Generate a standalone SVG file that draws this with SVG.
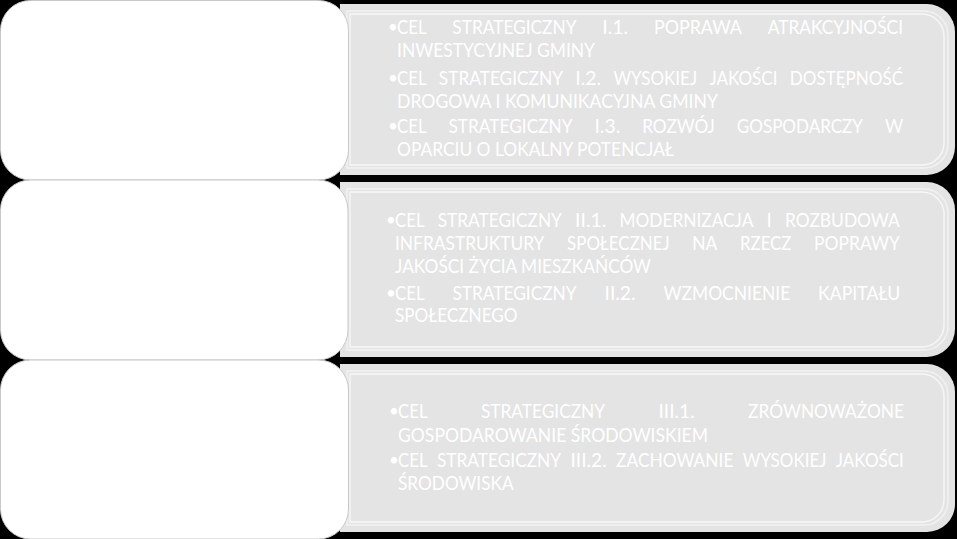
<svg xmlns="http://www.w3.org/2000/svg" width="957" height="539" viewBox="0 0 957 539">
<style>
.bg{fill:#000}
.lbox{fill:#ffffff;stroke:#c8c8c8;stroke-width:1}
.gbox{fill:#e4e4e4}
.f1{fill:none;stroke:#f2f2f2;stroke-width:1.4}
.f2{fill:none;stroke:#f7f7f7;stroke-width:1.4}
text{font-family:Lato,"Liberation Sans",Arial,sans-serif;font-size:18.5px;fill:#ffffff}
.b{font-size:17px}
</style>
<rect class="bg" x="0" y="0" width="957" height="539"/>
<g id="connectors"></g>
<g id="goal-box-1">
<path class="gbox" d="M340,4 H927 A28,28 0 0 1 955,32 V147 A28,28 0 0 1 927,175 H340 Z"/>
<path class="f1" d="M347,11 H924 A24,24 0 0 1 948,35 V144 A24,24 0 0 1 924,168 H347 Z"/>
<path class="f2" d="M350,14 H922 A22,22 0 0 1 944,36 V143 A22,22 0 0 1 922,165 H350 Z"/>
<text class="b" x="388" y="33">•</text>
<text x="397" y="34" textLength="29.5" lengthAdjust="spacingAndGlyphs">CEL</text>
<text x="452.3" y="34" textLength="124.2" lengthAdjust="spacingAndGlyphs">STRATEGICZNY</text>
<text x="602.3" y="34" textLength="25.9" lengthAdjust="spacingAndGlyphs">I.1.</text>
<text x="654" y="34" textLength="87.9" lengthAdjust="spacingAndGlyphs">POPRAWA</text>
<text x="767.7" y="34" textLength="135.3" lengthAdjust="spacingAndGlyphs">ATRAKCYJNOŚCI</text>
<text x="397" y="57" textLength="198" lengthAdjust="spacingAndGlyphs">INWESTYCYJNEJ GMINY</text>
<text class="b" x="388" y="84">•</text>
<text x="397" y="85" textLength="29.5" lengthAdjust="spacingAndGlyphs">CEL</text>
<text x="438.8" y="85" textLength="124.2" lengthAdjust="spacingAndGlyphs">STRATEGICZNY</text>
<text x="575.3" y="85" textLength="25.9" lengthAdjust="spacingAndGlyphs">I.2.</text>
<text x="613.5" y="85" textLength="83.6" lengthAdjust="spacingAndGlyphs">WYSOKIEJ</text>
<text x="709.4" y="85" textLength="68.1" lengthAdjust="spacingAndGlyphs">JAKOŚCI</text>
<text x="789.8" y="85" textLength="113.3" lengthAdjust="spacingAndGlyphs">DOSTĘPNOŚĆ</text>
<text x="397" y="107.5" textLength="321" lengthAdjust="spacingAndGlyphs">DROGOWA I KOMUNIKACYJNA GMINY</text>
<text class="b" x="388" y="132">•</text>
<text x="397" y="133" textLength="29.5" lengthAdjust="spacingAndGlyphs">CEL</text>
<text x="448.4" y="133" textLength="124.2" lengthAdjust="spacingAndGlyphs">STRATEGICZNY</text>
<text x="594.4" y="133" textLength="25.9" lengthAdjust="spacingAndGlyphs">I.3.</text>
<text x="642.2" y="133" textLength="72.7" lengthAdjust="spacingAndGlyphs">ROZWÓJ</text>
<text x="736.8" y="133" textLength="126.2" lengthAdjust="spacingAndGlyphs">GOSPODARCZY</text>
<text x="884.9" y="133" textLength="18.2" lengthAdjust="spacingAndGlyphs">W</text>
<text x="397" y="155.5" textLength="277" lengthAdjust="spacingAndGlyphs">OPARCIU O LOKALNY POTENCJAŁ</text>
</g>
<g id="goal-box-2">
<path class="gbox" d="M340,182 H927 A28,28 0 0 1 955,210 V329 A28,28 0 0 1 927,357 H340 Z"/>
<path class="f1" d="M347,189 H924 A24,24 0 0 1 948,213 V326 A24,24 0 0 1 924,350 H347 Z"/>
<path class="f2" d="M350,192 H922 A22,22 0 0 1 944,214 V325 A22,22 0 0 1 922,347 H350 Z"/>
<text class="b" x="386" y="226">•</text>
<text x="395" y="227" textLength="29.5" lengthAdjust="spacingAndGlyphs">CEL</text>
<text x="437.7" y="227" textLength="124.2" lengthAdjust="spacingAndGlyphs">STRATEGICZNY</text>
<text x="575.1" y="227" textLength="31.1" lengthAdjust="spacingAndGlyphs">II.1.</text>
<text x="619.4" y="227" textLength="134" lengthAdjust="spacingAndGlyphs">MODERNIZACJA</text>
<text x="766.6" y="227" textLength="5.2" lengthAdjust="spacingAndGlyphs">I</text>
<text x="785" y="227" textLength="114.9" lengthAdjust="spacingAndGlyphs">ROZBUDOWA</text>
<text x="395" y="250" textLength="149.4" lengthAdjust="spacingAndGlyphs">INFRASTRUKTURY</text>
<text x="567.1" y="250" textLength="102.6" lengthAdjust="spacingAndGlyphs">SPOŁECZNEJ</text>
<text x="692.3" y="250" textLength="25.1" lengthAdjust="spacingAndGlyphs">NA</text>
<text x="740.1" y="250" textLength="51.3" lengthAdjust="spacingAndGlyphs">RZECZ</text>
<text x="814" y="250" textLength="86" lengthAdjust="spacingAndGlyphs">POPRAWY</text>
<text x="395" y="273" textLength="256" lengthAdjust="spacingAndGlyphs">JAKOŚCI ŻYCIA MIESZKAŃCÓW</text>
<text class="b" x="386" y="299">•</text>
<text x="395" y="300" textLength="29.5" lengthAdjust="spacingAndGlyphs">CEL</text>
<text x="452.4" y="300" textLength="124.2" lengthAdjust="spacingAndGlyphs">STRATEGICZNY</text>
<text x="604.5" y="300" textLength="31.1" lengthAdjust="spacingAndGlyphs">II.2.</text>
<text x="663.5" y="300" textLength="126.7" lengthAdjust="spacingAndGlyphs">WZMOCNIENIE</text>
<text x="818.1" y="300" textLength="82" lengthAdjust="spacingAndGlyphs">KAPITAŁU</text>
<text x="395" y="322" textLength="122.6" lengthAdjust="spacingAndGlyphs">SPOŁECZNEGO</text>
</g>
<g id="goal-box-3">
<path class="gbox" d="M340,364 H927 A28,28 0 0 1 955,392 V504 A28,28 0 0 1 927,532 H340 Z"/>
<path class="f1" d="M347,371 H924 A24,24 0 0 1 948,395 V501 A24,24 0 0 1 924,525 H347 Z"/>
<path class="f2" d="M350,374 H922 A22,22 0 0 1 944,396 V500 A22,22 0 0 1 922,522 H350 Z"/>
<text class="b" x="389" y="417">•</text>
<text x="398" y="418" textLength="29.5" lengthAdjust="spacingAndGlyphs">CEL</text>
<text x="480.9" y="418" textLength="124.2" lengthAdjust="spacingAndGlyphs">STRATEGICZNY</text>
<text x="658.5" y="418" textLength="36.2" lengthAdjust="spacingAndGlyphs">III.1.</text>
<text x="748.1" y="418" textLength="155.9" lengthAdjust="spacingAndGlyphs">ZRÓWNOWAŻONE</text>
<text x="398" y="442" textLength="310" lengthAdjust="spacingAndGlyphs">GOSPODAROWANIE ŚRODOWISKIEM</text>
<text class="b" x="389" y="466">•</text>
<text x="398" y="467" textLength="29.5" lengthAdjust="spacingAndGlyphs">CEL</text>
<text x="436.9" y="467" textLength="124.2" lengthAdjust="spacingAndGlyphs">STRATEGICZNY</text>
<text x="570.5" y="467" textLength="36.2" lengthAdjust="spacingAndGlyphs">III.2.</text>
<text x="616.1" y="467" textLength="117.3" lengthAdjust="spacingAndGlyphs">ZACHOWANIE</text>
<text x="742.8" y="467" textLength="83.6" lengthAdjust="spacingAndGlyphs">WYSOKIEJ</text>
<text x="835.8" y="467" textLength="68.1" lengthAdjust="spacingAndGlyphs">JAKOŚCI</text>
<text x="398" y="490" textLength="115.6" lengthAdjust="spacingAndGlyphs">ŚRODOWISKA</text>
</g>
<g id="level-box-1"><rect class="lbox" x="0.5" y="0.5" width="348" height="179.5" rx="30" ry="30"/></g>
<g id="level-box-2"><rect class="lbox" x="0.5" y="180" width="347.5" height="180" rx="30" ry="30"/></g>
<g id="level-box-3"><rect class="lbox" x="0.5" y="360" width="348" height="179" rx="30" ry="30"/></g>
</svg>
